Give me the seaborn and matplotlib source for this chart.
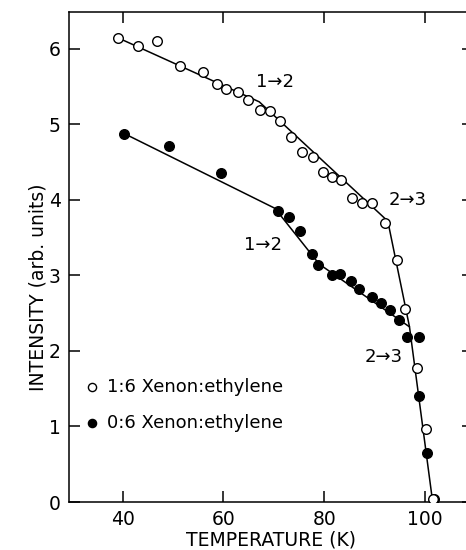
import matplotlib
matplotlib.use("Agg")
import matplotlib.pyplot as plt
import seaborn as sns
import pandas as pd

# ---- data ----
open_T = [39.0, 43.0, 46.9, 51.3, 56.0, 58.7, 60.5, 62.9, 64.9, 67.2, 69.2, 71.3, 73.3,
          75.6, 77.7, 79.7, 81.6, 83.4, 85.5, 87.4, 89.4, 92.1, 94.4, 96.0, 98.3, 100.1, 101.5]
open_I = [6.15, 6.04, 6.11, 5.77, 5.69, 5.54, 5.47, 5.43, 5.33, 5.19, 5.18, 5.05, 4.83,
          4.64, 4.57, 4.37, 4.30, 4.26, 4.02, 3.96, 3.96, 3.69, 3.21, 2.55, 1.77, 0.97, 0.04]

filled_T = [40.3, 49.1, 59.5, 70.8, 73.0, 75.2, 77.5, 78.7, 81.5, 83.2, 85.2, 86.9, 89.4,
            91.3, 93.1, 94.9, 96.5, 98.7, 98.8, 100.4, 101.7]
filled_I = [4.88, 4.72, 4.36, 3.86, 3.78, 3.59, 3.28, 3.14, 3.01, 3.02, 2.93, 2.82, 2.71,
            2.64, 2.54, 2.41, 2.19, 2.19, 1.41, 0.65, 0.04]

open_fit_T = [39.0, 67.1, 92.6, 96.9, 101.5]
open_fit_I = [6.15, 5.30, 3.72, 2.32, 0.0]
filled_fit_T = [40.3, 70.2, 79.0, 96.9]
filled_fit_I = [4.88, 3.89, 3.15, 2.32]

labels = ["1:6 Xenon:ethylene", "0:6 Xenon:ethylene"]
x_ticks = [40, 60, 80, 100]
y_ticks = [0, 1, 2, 3, 4, 5, 6]

annotations = [("1\u21922", 70.2, 5.56), ("2\u21923", 96.5, 4.00),
               ("1\u21922", 67.9, 3.40), ("2\u21923", 91.7, 1.92)]

# ---- figure ----
sns.set_style("ticks")
plt.rcParams["font.family"] = ["DejaVu Sans"]
plt.rcParams["text.color"] = "black"
plt.rcParams["axes.labelcolor"] = "black"
W, H = 466, 550
fig = plt.figure(figsize=(W / 100, H / 100), dpi=100)
ax = fig.add_axes([69 / W, 48 / H, (473 - 69) / W, (502 - 12) / H])

df_open = pd.DataFrame({"T": open_T, "I": open_I})
df_fill = pd.DataFrame({"T": filled_T, "I": filled_I})
fit_open = pd.DataFrame({"T": open_fit_T, "I": open_fit_I})
fit_fill = pd.DataFrame({"T": filled_fit_T, "I": filled_fit_I})

sns.lineplot(data=fit_open, x="T", y="I", sort=False, color="black", lw=1.1, ax=ax, zorder=2)
sns.lineplot(data=fit_fill, x="T", y="I", sort=False, color="black", lw=1.1, ax=ax, zorder=2)
sns.scatterplot(data=df_fill, x="T", y="I", s=48, color="black", edgecolor="black",
                linewidth=1.0, ax=ax, zorder=3, label=labels[1])
sns.scatterplot(data=df_open, x="T", y="I", s=48, facecolor="white", edgecolor="black",
                linewidth=1.0, ax=ax, zorder=4, label=labels[0])

for txt, x, y in annotations:
    ax.text(x, y, txt, ha="center", va="center", fontsize=13, color="black")

ax.set_xlim(29.35, 109.5)
ax.set_ylim(0, 6.49)
ax.set_xticks(x_ticks)
ax.set_yticks(y_ticks)
ax.set_yticklabels([str(v) for v in y_ticks])
ax.tick_params(direction="in", length=8, width=1.1, labelsize=13.5, colors="black",
               top=True, right=True, pad=6)
for s in ax.spines.values():
    s.set_linewidth(1.1)
    s.set_color("black")

ax.set_xlabel("TEMPERATURE (K)", fontsize=13.5, labelpad=0.5)
ax.set_ylabel("")
fig.text(38 / W, 1 - 287 / H, "INTENSITY (arb. units)", rotation=90, ha="center",
         va="center", fontsize=13.5)

h, l = ax.get_legend_handles_labels()
order = [l.index(labels[0]), l.index(labels[1])]
leg = ax.legend([h[i] for i in order], [l[i] for i in order], frameon=False,
                loc="center left", bbox_to_anchor=(0.0, 0.198), fontsize=13,
                handlelength=0.8, handletextpad=0.4, labelspacing=1.0,
                markerscale=0.85, borderaxespad=0.5, borderpad=0.4)
for t in leg.get_texts():
    t.set_color("black")

fig.savefig("out.png", dpi=100)
